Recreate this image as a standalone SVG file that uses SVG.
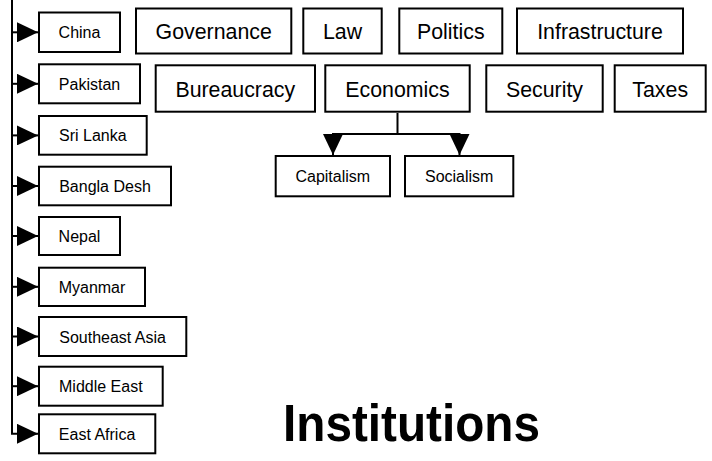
<svg xmlns="http://www.w3.org/2000/svg" width="712" height="461" viewBox="0 0 712 461">
<style>
  .box{fill:#fff;stroke:#000;stroke-width:2}
  .sm{font-family:"Liberation Sans",Arial,sans-serif;font-size:16px;fill:#000;text-anchor:middle}
  .lg{font-family:"Liberation Sans",Arial,sans-serif;font-size:21.33px;fill:#000;text-anchor:middle}
  .ttl{font-family:"Liberation Sans",Arial,sans-serif;font-size:52px;font-weight:bold;fill:#000;text-anchor:middle}
  .conn{fill:none;stroke:#000;stroke-width:2}
</style>
<defs>
  <marker id="arr" markerUnits="userSpaceOnUse" markerWidth="21" markerHeight="20" refX="21" refY="10" orient="auto" viewBox="0 0 21 20">
    <path d="M0,0 L21,10 L0,20 Z" fill="#000"/>
  </marker>
</defs>
<rect width="712" height="461" fill="#fff"/>
<g id="connectors">
  <path class="conn" d="M12,0 V433.8 H38" marker-end="url(#arr)"/>
  <path class="conn" d="M12,32.3 H38" marker-end="url(#arr)"/>
  <path class="conn" d="M12,83.8 H38" marker-end="url(#arr)"/>
  <path class="conn" d="M12,135.4 H38" marker-end="url(#arr)"/>
  <path class="conn" d="M12,186 H38" marker-end="url(#arr)"/>
  <path class="conn" d="M12,236 H38" marker-end="url(#arr)"/>
  <path class="conn" d="M12,286.8 H38" marker-end="url(#arr)"/>
  <path class="conn" d="M12,336.5 H38" marker-end="url(#arr)"/>
  <path class="conn" d="M12,386.2 H38" marker-end="url(#arr)"/>
  <path class="conn" d="M397.5,113 V134 H333 V155" marker-end="url(#arr)"/>
  <path class="conn" d="M397.5,134 H459.5 V155" marker-end="url(#arr)"/>
</g>
<g id="china"><rect class="box" x="39" y="12.5" width="81" height="39.5"/><text class="sm" x="79.5" y="38">China</text></g>
<g id="pakistan"><rect class="box" x="39" y="64.3" width="101" height="39"/><text class="sm" x="89.5" y="89.8">Pakistan</text></g>
<g id="srilanka"><rect class="box" x="39" y="116" width="107.7" height="38.7"/><text class="sm" x="92.8" y="141.4">Sri Lanka</text></g>
<g id="bangladesh"><rect class="box" x="39" y="166.7" width="132" height="38.6"/><text class="sm" x="105" y="192">Bangla Desh</text></g>
<g id="nepal"><rect class="box" x="39" y="217" width="81" height="38"/><text class="sm" x="79.5" y="242">Nepal</text></g>
<g id="myanmar"><rect class="box" x="39" y="267.7" width="106" height="38.3"/><text class="sm" x="92" y="292.8">Myanmar</text></g>
<g id="southeastasia"><rect class="box" x="39" y="317" width="147.3" height="39"/><text class="sm" x="112.6" y="342.5">Southeast Asia</text></g>
<g id="middleeast"><rect class="box" x="39" y="366.7" width="123.7" height="39"/><text class="sm" x="100.8" y="392.2">Middle East</text></g>
<g id="eastafrica"><rect class="box" x="39" y="414.3" width="116.3" height="39"/><text class="sm" x="97.1" y="439.8">East Africa</text></g>
<g id="governance"><rect class="box" x="136" y="8.5" width="155.3" height="45"/><text class="lg" x="213.7" y="39">Governance</text></g>
<g id="law"><rect class="box" x="303.3" y="8.5" width="78.4" height="45"/><text class="lg" x="342.5" y="39">Law</text></g>
<g id="politics"><rect class="box" x="399.3" y="8.5" width="103" height="45"/><text class="lg" x="450.8" y="39">Politics</text></g>
<g id="infrastructure"><rect class="box" x="517" y="8.5" width="166" height="45"/><text class="lg" x="600" y="39">Infrastructure</text></g>
<g id="bureaucracy"><rect class="box" x="155.7" y="65.3" width="159.3" height="46.4"/><text class="lg" x="235.3" y="96.5">Bureaucracy</text></g>
<g id="economics"><rect class="box" x="325.3" y="65.3" width="144.4" height="46.4"/><text class="lg" x="397.5" y="96.5">Economics</text></g>
<g id="security"><rect class="box" x="486.3" y="65.3" width="116.4" height="46.4"/><text class="lg" x="544.5" y="96.5">Security</text></g>
<g id="taxes"><rect class="box" x="614.7" y="65.3" width="91" height="46.4"/><text class="lg" x="660.2" y="96.5">Taxes</text></g>
<g id="capitalism"><rect class="box" x="275.7" y="156" width="114.3" height="40.3"/><text class="sm" x="332.8" y="182">Capitalism</text></g>
<g id="socialism"><rect class="box" x="405" y="156" width="108.3" height="40.3"/><text class="sm" x="459.2" y="182">Socialism</text></g>
<g id="title"><text class="ttl" x="411.5" y="441" textLength="257" lengthAdjust="spacingAndGlyphs">Institutions</text></g>
</svg>
